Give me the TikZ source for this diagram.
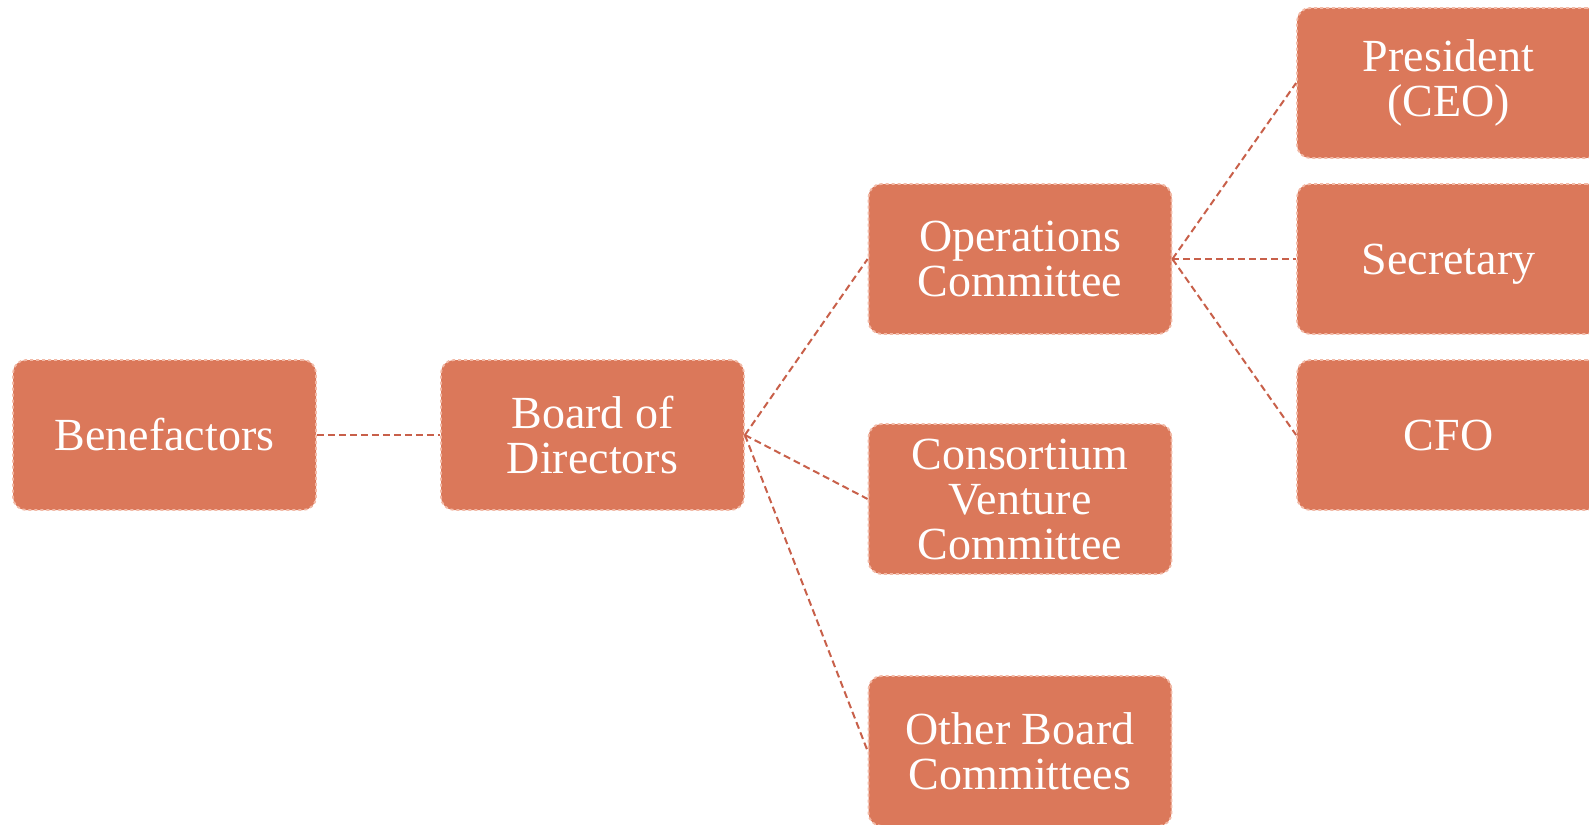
\documentclass[tikz,border=0pt]{standalone}
\usepackage{fontspec}
\setmainfont{Liberation Serif}
\definecolor{boxfill}{HTML}{DB785A}
\definecolor{boxedge}{HTML}{F2B9A6}
\definecolor{linkcol}{HTML}{C8604A}
\tikzset{
  orgbox/.style={rectangle, rounded corners=13pt, fill=boxfill, draw=boxedge,
    line width=1.8pt, dash pattern=on 3pt off 3pt,
    minimum width=303pt, minimum height=150pt, inner sep=0pt,
    text=white, align=center,
    font=\fontsize{46}{45}\selectfont},
  link/.style={draw=linkcol, line width=2pt, dash pattern=on 7pt off 4pt}
}
\begin{document}
\begin{tikzpicture}[x=1pt,y=-1pt]
\useasboundingbox (0,0) rectangle (1589,824);
\clip (0,0) rectangle (1589,824);
\node[orgbox] (ben) at (164.5,435) {Benefactors};
\node[orgbox] (board) at (592.5,435) {Board of\\Directors};
\node[orgbox] (ops) at (1020,259) {Operations\\Committee};
\node[orgbox] (cons) at (1020,499) {Consortium\\Venture\\Committee};
\node[orgbox] (other) at (1020,751) {Other Board\\Committees};
\node[orgbox] (pres) at (1448.5,83) {President\\(CEO)};
\node[orgbox, text depth=0pt] (sec) at (1448.5,259) {Secretary};
\node[orgbox] (cfo) at (1448.5,435) {CFO};
\draw[link] (ben.east) -- (board.west);
\draw[link] (board.east) -- (ops.west);
\draw[link] (board.east) -- (cons.west);
\draw[link] (board.east) -- (other.west);
\draw[link] (ops.east) -- (pres.west);
\draw[link] (ops.east) -- (sec.west);
\draw[link] (ops.east) -- (cfo.west);
\end{tikzpicture}
\end{document}
